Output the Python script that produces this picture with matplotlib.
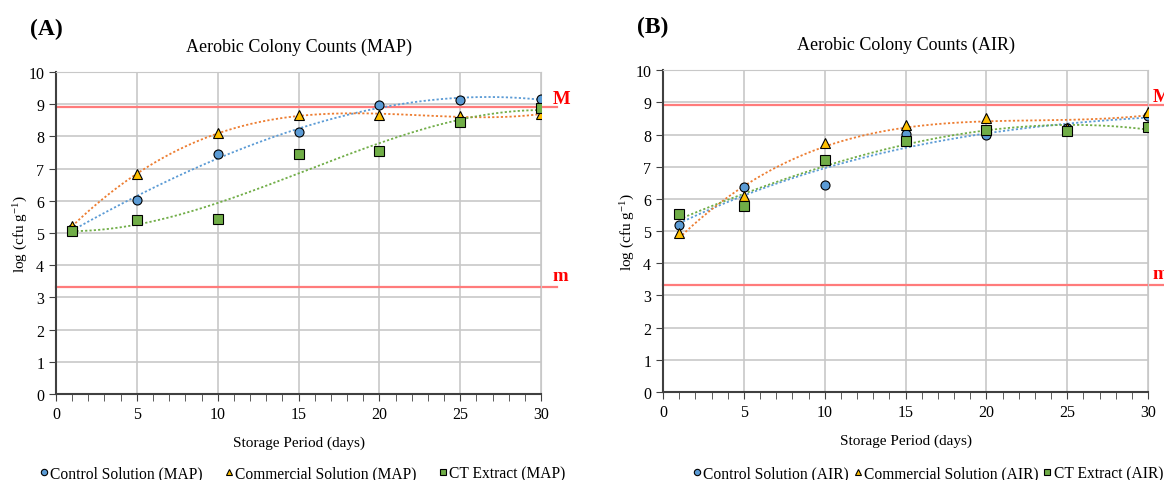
import numpy as np
import matplotlib
matplotlib.use("Agg")
from matplotlib import pyplot as plt
from matplotlib.ticker import MultipleLocator

plt.rcParams['font.family'] = ['Liberation Serif', 'DejaVu Serif']
plt.rcParams['mathtext.fontset'] = 'custom'
plt.rcParams['mathtext.rm'] = 'Liberation Serif'

days = [1, 5, 10, 15, 20, 25, 30]

# MAP
control_map = [5.12, 6.03, 7.46, 8.13, 8.98, 9.14, 9.16]
commercial_map = [5.22, 6.82, 8.11, 8.66, 8.66, 8.64, 8.69]
ct_map = [5.06, 5.39, 5.45, 7.46, 7.55, 8.46, 8.87]

# AIR
control_air = [5.19, 6.36, 6.44, 8.03, 7.98, 8.21, 8.58]
commercial_air = [4.93, 6.09, 7.74, 8.31, 8.52, 8.20, 8.70]
ct_air = [5.54, 5.77, 7.21, 7.81, 8.14, 8.11, 8.24]

M_limit = 8.93
m_limit = 3.33

blue = '#5b9bd5'
orange = '#ed7d31'
yellow = '#ffc000'
green = '#70ad47'
red_line = '#ff7b7b'


def panel(ax, series, degrees, tag, cond, leg_x, colsp, lab_x):
    x = np.array(days, dtype=float)
    xs = np.linspace(1, 30, 200)
    styles = [(blue, blue, 'o', 'Control Solution'),
              (yellow, orange, '^', 'Commercial Solution'),
              (green, green, 's', 'CT Extract')]
    handles = []
    for vals, deg, (fc, lc, mk, name) in zip(series, degrees, styles):
        coef = np.polyfit(x, vals, deg)
        ax.plot(xs, np.polyval(coef, xs), ls=(0, (1.2, 1.2)), color=lc, lw=1.3, zorder=3)
        h, = ax.plot(x, vals, ls='none', marker=mk, ms=6.5, mfc=fc, mec='black', mew=0.8,
                     label='%s (%s)' % (name, cond), zorder=4)
        handles.append(h)

    for lim in (M_limit, m_limit):
        ax.plot([0, 31.0], [lim, lim], color=red_line, lw=1.6, clip_on=False, zorder=2)
    ax.text(lab_x, M_limit + 0.24, 'M', color='red', fontsize=13.5, fontweight='bold',
            ha='left', va='center', clip_on=False)
    ax.text(lab_x, m_limit + 0.36, 'm', color='red', fontsize=13.5, fontweight='bold',
            ha='left', va='center', clip_on=False)

    ax.set_xlim(0, 30)
    ax.set_ylim(0, 10)
    ax.xaxis.set_major_locator(MultipleLocator(5))
    ax.xaxis.set_minor_locator(MultipleLocator(1))
    ax.yaxis.set_major_locator(MultipleLocator(1))
    ax.grid(True, which='major', color='#c8c8c8', lw=1.2, zorder=0)
    ax.set_axisbelow(True)
    ax.tick_params(axis='both', which='major', direction='out', length=5, labelsize=11.5,
                   color='#404040')
    ax.tick_params(axis='x', which='minor', direction='out', length=5, color='#404040')
    for s in ('top', 'right'):
        ax.spines[s].set_color('#c8c8c8')
    for s in ('left', 'bottom'):
        ax.spines[s].set_color('#404040')
        ax.spines[s].set_linewidth(1.5)

    ax.set_xlabel('Storage Period (days)', fontsize=11, labelpad=10)
    ax.set_ylabel('log (cfu g$\\mathregular{^{-1}}$)', fontsize=11, labelpad=-1)
    ax.set_title('Aerobic Colony Counts (%s)' % cond, fontsize=13, pad=15)
    ax.text(-0.054, 1.135, tag, transform=ax.transAxes, fontsize=17, fontweight='bold',
            ha='left', va='center')
    fig = ax.figure
    fig.legend(handles=handles, loc='center left',
               bbox_to_anchor=(leg_x, 0.014), bbox_transform=fig.transFigure,
               ncol=3, frameon=False, fontsize=11.2, handletextpad=0.1,
               columnspacing=colsp, handlelength=0.6, markerscale=0.7,
               borderpad=0, borderaxespad=0)


fig = plt.figure(figsize=(11.64, 4.81), dpi=100)
ax1 = fig.add_axes([0.0481, 0.179, 0.4167, 0.669])
ax2 = fig.add_axes([0.5696, 0.183, 0.4167, 0.669])

panel(ax1, [control_map, commercial_map, ct_map], [3, 4, 3], '(A)', 'MAP', 0.0338, 1.4, 30.7)
panel(ax2, [control_air, commercial_air, ct_air], [3, 3, 3], '(B)', 'AIR', 0.5946, 0.28, 30.3)

fig.savefig('out.png', dpi=100)
